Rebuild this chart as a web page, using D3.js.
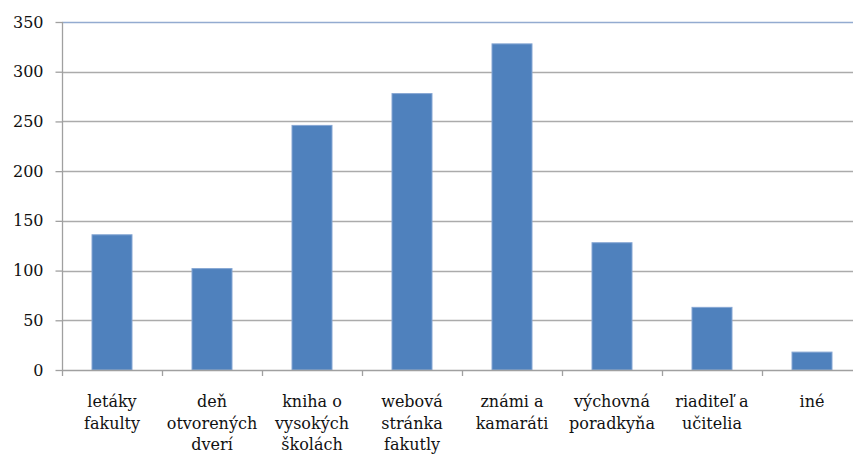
<!DOCTYPE html>
<html>
<head>
<meta charset="utf-8">
<script src="https://cdn.jsdelivr.net/npm/d3@7"></script>
<style>
  html, body { margin: 0; padding: 0; background: #fff; }
  svg { display: block; }
  text { font-family: "DejaVu Serif", "Liberation Serif", serif; fill: #111; }
</style>
</head>
<body>
<svg id="chart" width="853" height="454"></svg>
<script>
// Category labels (line breaks mark the wrapped lines under each bar)
const categories = [
  "letáky\nfakulty",
  "deň\notvorených\ndverí",
  "kniha o\nvysokých\nškolách",
  "webová\nstránka\nfakutly",
  "známi a\nkamaráti",
  "výchovná\nporadkyňa",
  "riaditeľ a\nučitelia",
  "iné"
];
const values = [136, 102, 246, 278, 328, 128, 63, 18];
const yTicks = [0, 50, 100, 150, 200, 250, 300, 350];

const svg = d3.select("#chart");
const plotLeft = 62, plotRight = 862, plotTop = 22, plotBottom = 370;

const x = d3.scaleBand()
  .domain(categories)
  .range([plotLeft, plotRight])
  .paddingInner(0.6)
  .paddingOuter(0.3);

const y = d3.scaleLinear()
  .domain([0, 350])
  .range([plotBottom, plotTop]);

// Horizontal gridlines
svg.append("g")
  .selectAll("line")
  .data(yTicks.filter(d => d > 0))
  .join("line")
  .attr("x1", plotLeft)
  .attr("x2", 853)
  .attr("y1", d => Math.round(y(d)) + 0.5)
  .attr("y2", d => Math.round(y(d)) + 0.5)
  .attr("stroke", d => d === 350 ? "#93abd0" : "#ababab")
  .attr("stroke-width", 1.3);

// Bars
svg.append("g")
  .selectAll("rect")
  .data(values)
  .join("rect")
  .attr("x", (d, i) => x(categories[i]))
  .attr("y", d => y(d))
  .attr("width", x.bandwidth())
  .attr("height", d => y(0) - y(d))
  .attr("fill", "#4f81bd")
  .attr("stroke", "#86a6d3")
  .attr("stroke-width", 1);

// Y axis
const yAxis = svg.append("g")
  .attr("transform", `translate(${plotLeft + 0.5},0)`)
  .call(d3.axisLeft(y).tickValues(yTicks).tickSize(7).tickPadding(12));
yAxis.select(".domain").attr("stroke", "#a0a0a0").attr("stroke-width", 1.3)
  .attr("d", `M0,${plotTop}V${plotBottom}`);
yAxis.selectAll(".tick line").attr("stroke", "#a0a0a0").attr("stroke-width", 1.3);
yAxis.selectAll(".tick text")
  .style("font-family", "'DejaVu Serif', serif")
  .style("font-size", "16px")
  .attr("fill", "#111");

// X axis baseline and category boundary ticks
const step = x.step();
const firstStart = x(categories[0]) - (x.paddingInner() * step) / 2;
const boundaries = d3.range(categories.length + 1).map(i => firstStart + i * step);
svg.append("line")
  .attr("x1", plotLeft).attr("x2", 853)
  .attr("y1", plotBottom + 0.5).attr("y2", plotBottom + 0.5)
  .attr("stroke", "#a0a0a0").attr("stroke-width", 1.3);
svg.append("g")
  .selectAll("line")
  .data(boundaries)
  .join("line")
  .attr("x1", d => Math.round(d) + 0.5)
  .attr("x2", d => Math.round(d) + 0.5)
  .attr("y1", plotBottom)
  .attr("y2", plotBottom + 6)
  .attr("stroke", "#a0a0a0")
  .attr("stroke-width", 1.3);

// Category labels
const labels = svg.append("g")
  .selectAll("text")
  .data(categories)
  .join("text")
  .attr("text-anchor", "middle")
  .style("font-size", "16px")
  .attr("transform", d => `translate(${x(d) + x.bandwidth() / 2},407)`);
labels.selectAll("tspan")
  .data(d => d.split("\n"))
  .join("tspan")
  .attr("x", 0)
  .attr("y", (d, i) => i * 21.5)
  .text(d => d);
</script>
</body>
</html>
